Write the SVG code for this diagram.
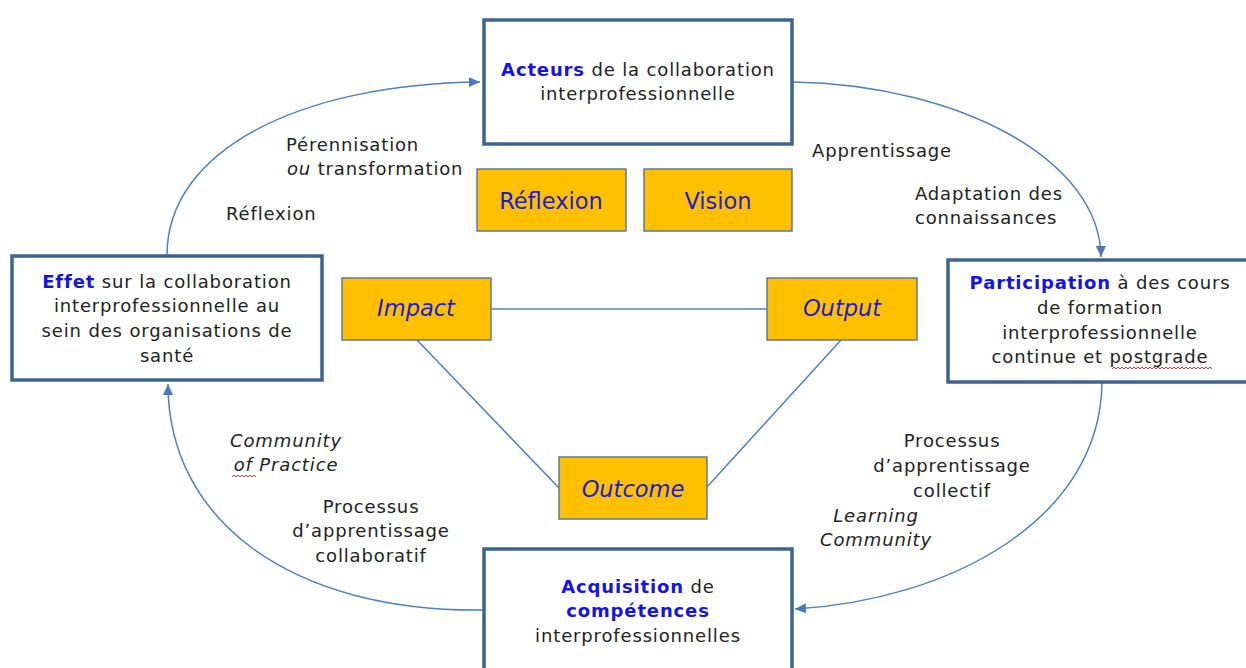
<svg xmlns="http://www.w3.org/2000/svg" width="1246" height="668" viewBox="0 0 1246 668">
<style>
text{font-family:"DejaVu Sans","Liberation Sans",sans-serif;fill:#222;}
.lbl{font-size:18px;letter-spacing:0.85px;}
.box{fill:#fff;stroke:#3D6491;stroke-width:3.5;}
.org{fill:#FFC000;stroke:#5E7B99;stroke-width:1.5;}
.ot{font-size:22.5px;fill:#1C1CD8;text-anchor:middle;}
.b{font-weight:bold;fill:#1414E6;}
.c{text-anchor:middle;}
.i{font-style:italic;}
.con{fill:none;stroke:#4F81BD;stroke-width:1.5;}
.sq{fill:none;stroke:#E02020;stroke-width:0.9;}
</style>
<defs>
<marker id="ah" markerUnits="userSpaceOnUse" markerWidth="12" markerHeight="10" refX="11" refY="5" orient="auto">
<path d="M0,0 L11,5 L0,10 z" fill="#4A7BB8"/>
</marker>
</defs>
<g id="connectors">
<path class="con" d="M167,255 C167,150 300,84 480,82" marker-end="url(#ah)"/>
<path class="con" d="M793,82 C960,85 1100,160 1101,257" marker-end="url(#ah)"/>
<path class="con" d="M1102,383 C1100,520 950,600 795,609" marker-end="url(#ah)"/>
<path class="con" d="M483,610 C290,612 168,520 168,384" marker-end="url(#ah)"/>
<line class="con" x1="491" y1="309" x2="767" y2="309"/>
<line class="con" x1="417" y1="340" x2="559" y2="488"/>
<line class="con" x1="841" y1="340" x2="707" y2="487"/>
</g>
<g id="acteurs">
<rect class="box" x="484" y="20" width="308" height="124"/>
<text class="lbl c" x="638" y="76"><tspan class="b">Acteurs</tspan> de la collaboration</text>
<text class="lbl c" x="638" y="100">interprofessionnelle</text>
</g>
<g id="effet">
<rect class="box" x="12" y="256" width="310" height="124"/>
<text class="lbl c" x="167" y="288"><tspan class="b">Effet</tspan> sur la collaboration</text>
<text class="lbl c" x="167" y="312">interprofessionnelle au</text>
<text class="lbl c" x="167" y="337">sein des organisations de</text>
<text class="lbl c" x="167" y="362">santé</text>
</g>
<g id="participation">
<rect class="box" x="948" y="260" width="310" height="122"/>
<text class="lbl c" x="1100" y="289"><tspan class="b">Participation</tspan> à des cours</text>
<text class="lbl c" x="1100" y="314">de formation</text>
<text class="lbl c" x="1100" y="339">interprofessionnelle</text>
<text class="lbl c" x="1100" y="363">continue et postgrade</text>
<path class="sq" d="M1112,369 l2,-2 l2,2 l2,-2 l2,2 l2,-2 l2,2 l2,-2 l2,2 l2,-2 l2,2 l2,-2 l2,2 l2,-2 l2,2 l2,-2 l2,2 l2,-2 l2,2 l2,-2 l2,2 l2,-2 l2,2 l2,-2 l2,2 l2,-2 l2,2 l2,-2 l2,2 l2,-2 l2,2 l2,-2 l2,2 l2,-2 l2,2 l2,-2 l2,2 l2,-2 l2,2 l2,-2 l2,2 l2,-2 l2,2 l2,-2 l2,2 l2,-2 l2,2 l2,-2 l2,2 l2,-2 l2,2"/>
</g>
<g id="acquisition">
<rect class="box" x="484" y="549" width="308" height="130"/>
<text class="lbl c" x="638" y="593"><tspan class="b">Acquisition</tspan> de</text>
<text class="lbl c b" x="638" y="617">compétences</text>
<text class="lbl c" x="638" y="642">interprofessionnelles</text>
</g>
<g id="reflexion-box">
<rect class="org" x="477" y="169" width="149" height="62"/>
<text class="ot" x="551" y="209">Réflexion</text>
</g>
<g id="vision-box">
<rect class="org" x="644" y="169" width="148" height="62"/>
<text class="ot" x="718" y="209">Vision</text>
</g>
<g id="impact">
<rect class="org" x="342" y="278" width="149" height="62"/>
<text class="ot i" x="416" y="316">Impact</text>
</g>
<g id="output">
<rect class="org" x="767" y="278" width="150" height="62"/>
<text class="ot i" x="842" y="316">Output</text>
</g>
<g id="outcome">
<rect class="org" x="559" y="457" width="148" height="62"/>
<text class="ot i" x="633" y="497">Outcome</text>
</g>
<g id="labels">
<text class="lbl" x="286" y="151">Pérennisation</text>
<text class="lbl" x="287" y="175"><tspan class="i">ou</tspan> transformation</text>
<text class="lbl" x="226" y="220">Réflexion</text>
<text class="lbl" x="812" y="157">Apprentissage</text>
<text class="lbl" x="915" y="200">Adaptation des</text>
<text class="lbl" x="915" y="224">connaissances</text>
<text class="lbl c i" x="286" y="447">Community</text>
<text class="lbl c i" x="286" y="471">of Practice</text>
<path class="sq" d="M232,477 l2,-2 l2,2 l2,-2 l2,2 l2,-2 l2,2 l2,-2 l2,2 l2,-2 l2,2 l2,-2 l2,2"/>
<text class="lbl c" x="371" y="513">Processus</text>
<text class="lbl c" x="371" y="537">d’apprentissage</text>
<text class="lbl c" x="371" y="562">collaboratif</text>
<text class="lbl c" x="952" y="447">Processus</text>
<text class="lbl c" x="952" y="472">d’apprentissage</text>
<text class="lbl c" x="952" y="497">collectif</text>
<text class="lbl c i" x="876" y="522">Learning</text>
<text class="lbl c i" x="876" y="546">Community</text>
</g>
</svg>
